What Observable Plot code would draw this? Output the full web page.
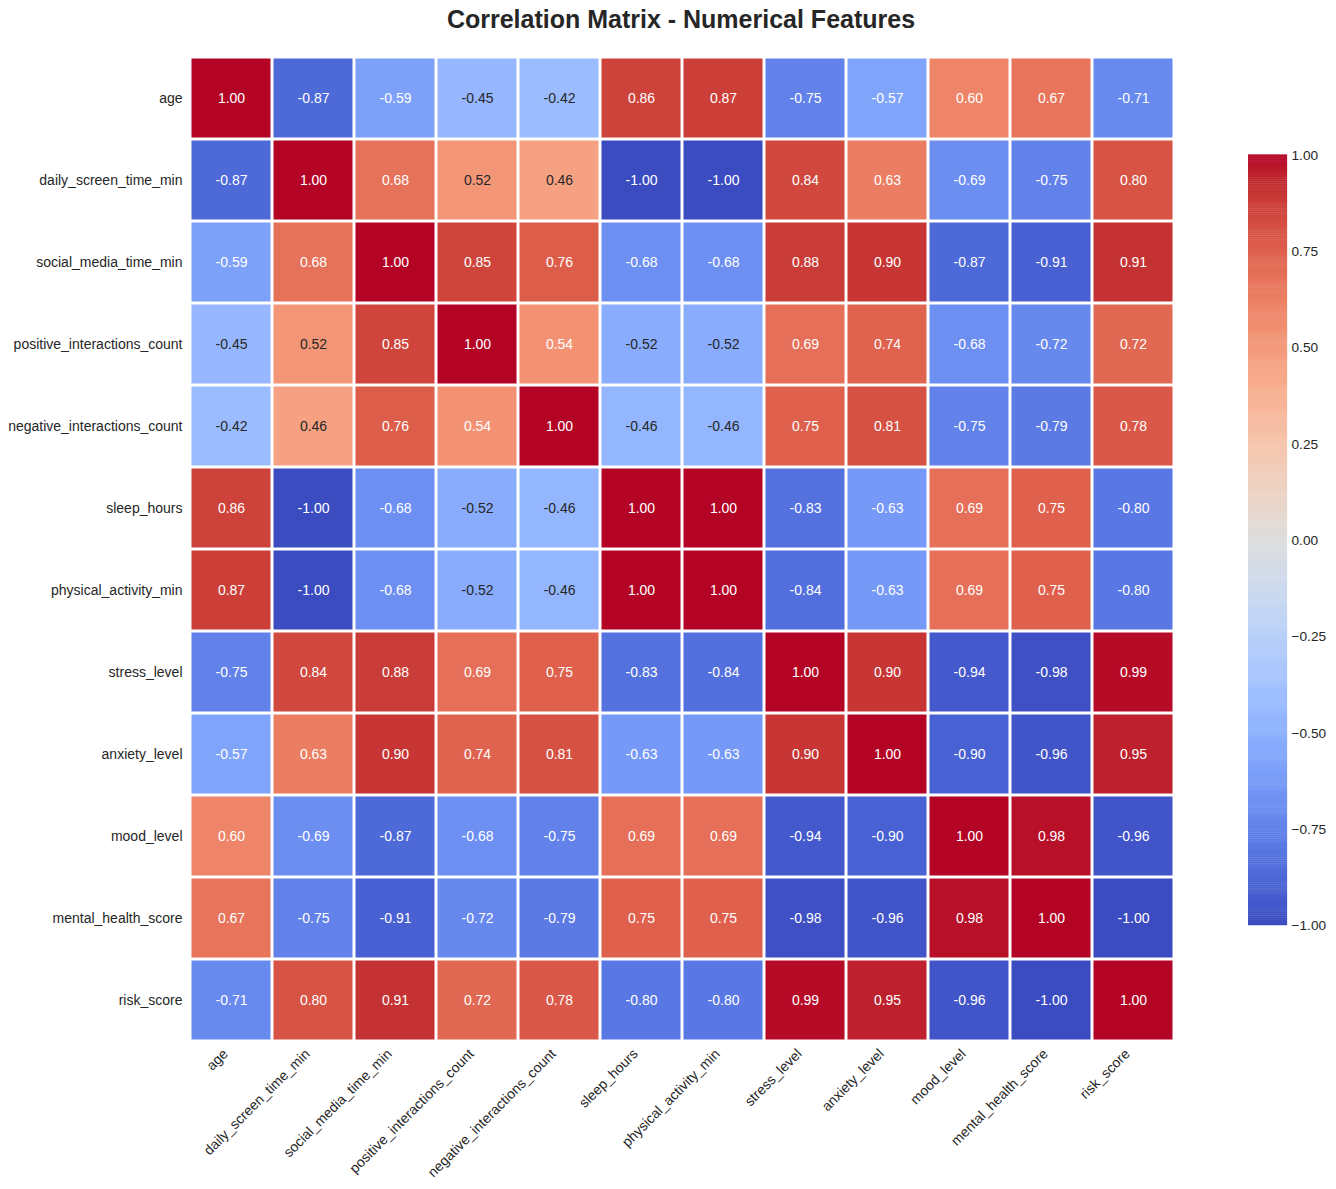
<!DOCTYPE html>
<html><head><meta charset="utf-8">
<script src="https://cdn.jsdelivr.net/npm/d3@7"></script>
<script src="https://cdn.jsdelivr.net/npm/@observablehq/plot@0.6"></script>
<style>
body{margin:0;background:#fff;font-family:"Liberation Sans",Arial,sans-serif;}
#wrap{position:relative;width:1336px;height:1189px;overflow:hidden;}
#title{position:absolute;top:5px;left:0;width:1362px;text-align:center;font-weight:bold;font-size:25px;color:#262626;}
#main{position:absolute;top:40px;left:0;}
#cbar{position:absolute;top:145px;left:1248px;}
</style>
</head><body>
<div id="wrap">
<div id="title">Correlation Matrix - Numerical Features</div>
<div id="main"></div>
<div id="cbar"></div>
</div>
<script>
const features = ["age","daily_screen_time_min","social_media_time_min","positive_interactions_count","negative_interactions_count","sleep_hours","physical_activity_min","stress_level","anxiety_level","mood_level","mental_health_score","risk_score"];

const r_age      = [ 1.00,-0.87,-0.59,-0.45,-0.42, 0.86, 0.87,-0.75,-0.57, 0.60, 0.67,-0.71];
const r_daily    = [-0.87, 1.00, 0.68, 0.52, 0.46,-1.00,-1.00, 0.84, 0.63,-0.69,-0.75, 0.80];
const r_social   = [-0.59, 0.68, 1.00, 0.85, 0.76,-0.68,-0.68, 0.88, 0.90,-0.87,-0.91, 0.91];
const r_positive = [-0.45, 0.52, 0.85, 1.00, 0.54,-0.52,-0.52, 0.69, 0.74,-0.68,-0.72, 0.72];
const r_negative = [-0.42, 0.46, 0.76, 0.54, 1.00,-0.46,-0.46, 0.75, 0.81,-0.75,-0.79, 0.78];
const r_sleep    = [ 0.86,-1.00,-0.68,-0.52,-0.46, 1.00, 1.00,-0.83,-0.63, 0.69, 0.75,-0.80];
const r_physical = [ 0.87,-1.00,-0.68,-0.52,-0.46, 1.00, 1.00,-0.84,-0.63, 0.69, 0.75,-0.80];
const r_stress   = [-0.75, 0.84, 0.88, 0.69, 0.75,-0.83,-0.84, 1.00, 0.90,-0.94,-0.98, 0.99];
const r_anxiety  = [-0.57, 0.63, 0.90, 0.74, 0.81,-0.63,-0.63, 0.90, 1.00,-0.90,-0.96, 0.95];
const r_mood     = [ 0.60,-0.69,-0.87,-0.68,-0.75, 0.69, 0.69,-0.94,-0.90, 1.00, 0.98,-0.96];
const r_mental   = [ 0.67,-0.75,-0.91,-0.72,-0.79, 0.75, 0.75,-0.98,-0.96, 0.98, 1.00,-1.00];
const r_risk     = [-0.71, 0.80, 0.91, 0.72, 0.78,-0.80,-0.80, 0.99, 0.95,-0.96,-1.00, 1.00];
const rows = [r_age,r_daily,r_social,r_positive,r_negative,r_sleep,r_physical,r_stress,r_anxiety,r_mood,r_mental,r_risk];

const colorbarTicks = [-1,-0.75,-0.5,-0.25,0,0.25,0.5,0.75,1];

// coolwarm (Moreland) control points
const coolwarmRGB = [[59,76,192],[68,90,204],[77,104,215],[87,117,225],[98,130,234],[108,142,241],[119,154,247],[130,165,251],[141,176,254],[152,185,255],[163,194,255],[174,201,253],[184,208,249],[194,213,244],[204,217,238],[213,219,230],[221,221,221],[229,216,209],[236,211,197],[241,204,184],[245,196,172],[247,187,159],[247,177,147],[247,166,134],[244,154,123],[241,141,111],[236,127,99],[229,112,88],[222,96,77],[213,80,66],[203,62,56],[192,40,47],[180,4,38]];
const coolwarm = d3.piecewise(d3.interpolateRgb, coolwarmRGB.map(c => d3.rgb(...c)));

function lum(col){
  const c = d3.rgb(col);
  const f = v => { v/=255; return v<=0.03928 ? v/12.92 : Math.pow((v+0.055)/1.055,2.4); };
  return 0.2126*f(c.r)+0.7152*f(c.g)+0.0722*f(c.b);
}

const data = [];
rows.forEach((r,i) => r.forEach((v,j) => data.push({row:features[i], col:features[j], value:v})));
data.forEach(d => d.dark = lum(coolwarm((d.value+1)/2)) > 0.408);

const fmtCell = v => d3.format(".2f")(v).replace("\u2212","-");
const colorOpt = {type:"linear", domain:[-1,1], interpolate: coolwarm};

const main = Plot.plot({
  width:1336, height:1149,
  marginTop:17, marginLeft:189, marginRight:162, marginBottom:148,
  style:{fontFamily:"'Liberation Sans', Arial, sans-serif", fontSize:"14px", color:"#262626", background:"white"},
  x:{domain:features, padding:0},
  y:{domain:features, padding:0},
  color: colorOpt,
  marks:[
    Plot.cell(data,{x:"col", y:"row", fill:"value", inset:1.5}),
    Plot.text(data.filter(d=>!d.dark),{x:"col", y:"row", text:d=>fmtCell(d.value), fill:"white", fontSize:14}),
    Plot.text(data.filter(d=>d.dark),{x:"col", y:"row", text:d=>fmtCell(d.value), fill:"#262626", fontSize:14}),
    Plot.axisY({tickSize:0, tickPadding:7, label:null, fontSize:14}),
    Plot.axisX({tickRotate:-45, tickSize:0, tickPadding:8, dx:-6, dy:2, label:null, fontSize:14})
  ]
});
document.getElementById("main").appendChild(main);

const stops = d3.range(0,400).map(i => -1 + i*2/400);
const cbar = Plot.plot({
  width:90, height:808,
  marginTop:10, marginBottom:10, marginLeft:0, marginRight:50,
  style:{fontFamily:"'Liberation Sans', Arial, sans-serif", fontSize:"14px", color:"#262626", background:"white"},
  x:{domain:[0,1], axis:null},
  y:{domain:[-1,1]},
  color: colorOpt,
  marks:[
    Plot.rect(stops,{x1:0, x2:1, y1:d=>d, y2:d=>d+2/400+0.001, fill:d=>d+1/400}),
    Plot.axisY({anchor:"right", ticks:colorbarTicks, tickFormat:d3.format(".2f"), tickSize:0, tickPadding:4, label:null, fontSize:14})
  ]
});
document.getElementById("cbar").appendChild(cbar);
</script>
</body></html>
